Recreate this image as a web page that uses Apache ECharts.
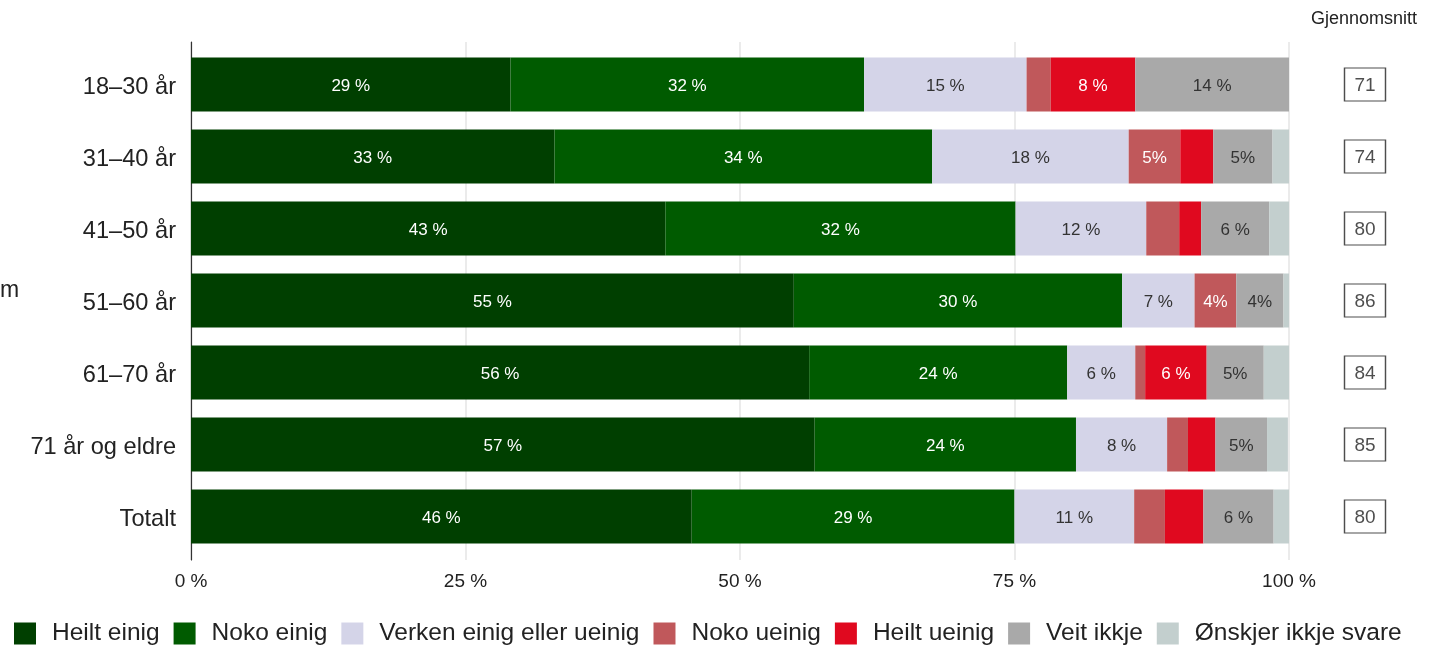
<!DOCTYPE html>
<html><head><meta charset="utf-8">
<script src="https://cdn.jsdelivr.net/npm/echarts@6/dist/echarts.min.js"></script>
<style>html,body{margin:0;padding:0;background:#fff}#c{width:1438px;height:645px}</style>
</head><body><div id="c"></div>
<script>
const categories = ['18–30 år','31–40 år','41–50 år','51–60 år','61–70 år','71 år og eldre','Totalt'];
const seriesNames = ['Heilt einig','Noko einig','Verken einig eller ueinig','Noko ueinig','Heilt ueinig','Veit ikkje','Ønskjer ikkje svare'];
const heiltEinig   = [29.1, 33.1, 43.2, 54.9, 56.3, 56.8, 45.6];
const nokoEinig    = [32.2, 34.4, 31.9, 29.9, 23.5, 23.8, 29.4];
const verken       = [14.8, 17.9, 11.9, 6.6, 6.2, 8.3, 10.9];
const nokoUeinig   = [2.2, 4.7, 3.0, 3.8, 0.9, 1.9, 2.8];
const heiltUeinig  = [7.7, 3.0, 2.0, 0, 5.6, 2.5, 3.5];
const veitIkkje    = [14.0, 5.4, 6.2, 4.3, 5.2, 4.7, 6.4];
const onskjerIkkje = [0, 1.5, 1.8, 0.5, 2.4, 1.9, 1.4];
const averages     = [71, 74, 80, 86, 84, 85, 80];
const xTicks       = [0, 25, 50, 75, 100];

const seriesValues = [heiltEinig, nokoEinig, verken, nokoUeinig, heiltUeinig, veitIkkje, onskjerIkkje];
const colors = ['#003f00','#005b00','#d4d4e8','#c0585b','#e0091f','#a9a9a9','#c3cfce'];
const labelColors = ['#ffffff','#ffffff','#333333','#ffffff','#ffffff','#333333','#333333'];
const FONT = '"Liberation Sans", Arial, sans-serif';

function fmt(v){
  if (v < 3.7) return '';
  const r = Math.round(v);
  return r <= 5 ? r + '%' : r + ' %';
}

const chart = echarts.init(document.getElementById('c'));
const barSeries = seriesNames.map((name, i) => ({
  name, type: 'bar', stack: 'total', xAxisIndex: 0, yAxisIndex: 0,
  barWidth: '75%',
  data: seriesValues[i],
  itemStyle: { color: colors[i] },
  label: { show: true, position: 'inside', offset: [0, 2], color: labelColors[i], fontFamily: FONT, fontSize: 17,
    formatter: p => fmt(p.value) },
  emphasis: { disabled: true },
  z: 3
}));

chart.setOption({
  animation: false,
  textStyle: { fontFamily: FONT },
  title: { text: 'Gjennomsnitt', left: 1311, top: 10, padding: 0, textStyle: { fontFamily: FONT, fontSize: 18, fontWeight: 'normal', color: '#222' } },
  graphic: [{ type: 'text', left: 0, top: 279, style: { text: 'm', font: '23px ' + FONT, fill: '#222' } }],
  legend: {
    left: 14, top: 621, padding: 0, itemWidth: 22, itemHeight: 22, itemGap: 14, icon: 'rect',
    data: seriesNames,
    textStyle: { fontFamily: FONT, fontSize: 24.5, color: '#222', padding: [0, 0, 0, 11] }
  },
  grid: [
    { left: 191, right: 149, top: 48.5, height: 504, containLabel: false },
    { left: 191, right: 149, top: 42, bottom: 85, containLabel: false },
    { left: 1345, width: 40, top: 48.5, height: 504, containLabel: false }
  ],
  xAxis: [
    { gridIndex: 0, type: 'value', min: 0, max: 100, show: false },
    { gridIndex: 1, type: 'value', min: 0, max: 100, interval: 25,
      axisLine: { show: false }, axisTick: { show: false },
      splitLine: { show: true, lineStyle: { color: '#e5e5e5', width: 1.5 } },
      axisLabel: { margin: 12, fontSize: 19, color: '#222', fontFamily: FONT, formatter: v => v + ' %' },
      data: xTicks },
    { gridIndex: 2, type: 'value', min: 0, max: 1, show: false }
  ],
  yAxis: [
    { gridIndex: 0, type: 'category', data: categories, inverse: true,
      axisLine: { show: false }, axisTick: { show: false },
      axisLabel: { color: '#222', margin: 15, fontFamily: FONT,
        formatter: v => '{c|' + v + '}',
        rich: { c: { fontSize: 23.6, fontFamily: FONT, color: '#222', padding: [6, 0, 0, 0] } } } },
    { gridIndex: 1, type: 'value', min: 0, max: 1,
      axisLine: { show: true, lineStyle: { color: '#333', width: 1.2 } },
      axisTick: { show: false }, axisLabel: { show: false }, splitLine: { show: false } },
    { gridIndex: 2, type: 'category', data: categories, inverse: true, show: false }
  ],
  series: barSeries.concat([{
    type: 'scatter', xAxisIndex: 2, yAxisIndex: 2,
    data: averages.map((v, i) => [0.5, categories[i], v]),
    symbol: 'rect', symbolSize: [41, 33],
    itemStyle: { color: '#fff', borderColor: '#222', borderWidth: 1.3 },
    label: { show: true, position: 'inside', offset: [0, 1.5], color: '#222', fontSize: 19, fontFamily: FONT, formatter: p => p.value[2] },
    emphasis: { disabled: true }, silent: true
  }])
});
</script></body></html>
